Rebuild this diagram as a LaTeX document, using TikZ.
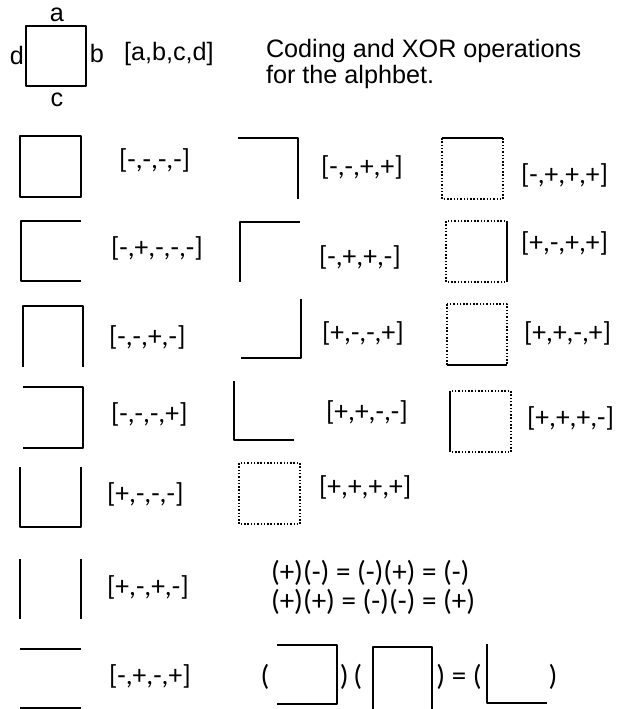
\documentclass[tikz,border=0pt]{standalone}
\usepackage{fontspec}
\setmainfont{Liberation Sans}
\newfontfamily\calib{Carlito}
\begin{document}
\begin{tikzpicture}[x=1pt,y=-1pt,line width=2pt,line join=round,
  codelbl/.style={anchor=west,inner sep=0pt,font=\calib\fontsize{27.5}{30}\selectfont},
  oplbl/.style={inner sep=0pt,font=\calib\fontsize{29}{29}\selectfont},
  txt/.style={inner sep=0pt,font=\fontsize{25.2}{26}\selectfont},
  dotbox/.style={line width=1.7pt,dash pattern=on 1.5pt off 1.8pt}]
\useasboundingbox (0,0) rectangle (616,709);
\draw[line width=1.5pt] (26,26) rectangle (86,86);
\node[txt,anchor=base] (sa) at (57,22) {a};
\node[txt,anchor=base] (sb) at (97,63) {b};
\node[txt,anchor=base] (sc) at (57,106) {c};
\node[txt,anchor=base] (sd) at (17,64) {d};
\node[txt,anchor=base west] (abcd) at (123,61) {[a,b,c,d]};
\node[txt,anchor=base west] (title1) at (265,57) {Coding and XOR operations};
\node[txt,anchor=base west] (title2) at (265,83) {for the alphbet.};
\draw (20,136) rectangle (81,197);
\node[codelbl] (l1) at (118,160) {[-,-,-,-]};
\draw (81,221) -- (21,221) -- (21,281) -- (81,281);
\node[codelbl] (l2) at (110,248) {[-,+,-,-,-]};
\draw (23,367) -- (23,306) -- (83,306) -- (83,367);
\node[codelbl] (l3) at (108,337) {[-,-,+,-]};
\draw (23,387) -- (83,387) -- (83,448) -- (23,448);
\node[codelbl] (l4) at (110,414) {[-,-,-,+]};
\draw (20,467) -- (20,527) -- (81,527) -- (81,467);
\node[codelbl] (l5) at (106,494) {[+,-,-,-]};
\draw (20,559) -- (20,619) (81,559) -- (81,619);
\node[codelbl] (l6) at (106,587) {[+,-,+,-]};
\draw (20,649) -- (81,649) (20,708) -- (81,708);
\node[codelbl] (l7) at (108,676) {[-,+,-,+]};
\draw (238,138) -- (298,138) -- (298,199);
\node[codelbl] (m1) at (320,167) {[-,-,+,+]};
\draw (240,282) -- (240,222) -- (300,222);
\node[codelbl] (m2) at (318,257) {[-,+,+,-]};
\draw (301,299) -- (301,358) -- (241,358);
\node[codelbl] (m3) at (321,333) {[+,-,-,+]};
\draw (234,381) -- (234,440) -- (294,440);
\node[codelbl] (m4) at (325,412) {[+,+,-,-]};
\draw[dotbox] (239,463) rectangle (300,524);
\node[codelbl] (m5) at (318,487) {[+,+,+,+]};
\draw[dotbox] (442,138) rectangle (503,199);
\draw (442,138) -- (503,138);
\node[codelbl] (r1) at (520,175) {[-,+,+,+]};
\draw[dotbox] (446,221) rectangle (507,282);
\draw (507,221) -- (507,282);
\node[codelbl] (r2) at (520,243) {[+,-,+,+]};
\draw[dotbox] (447,304) rectangle (507,365);
\draw (447,365) -- (507,365);
\node[codelbl] (r3) at (523,333) {[+,+,-,+]};
\draw[dotbox] (450,391) rectangle (511,452);
\draw (450,391) -- (450,452);
\node[codelbl] (r4) at (526,418) {[+,+,+,-]};
\node[oplbl,anchor=west] (rule1) at (270,573) {(+)(-) = (-)(+) = (-)};
\node[oplbl,anchor=west] (rule2) at (270,602) {(+)(+) = (-)(-) = (+)};
\node[oplbl] (p1) at (265,677) {(};
\draw (277,645) -- (337,645) -- (337,704) -- (277,704);
\node[oplbl] (p2) at (351,677) {)\,(};
\draw (373,709) -- (373,647) -- (432,647) -- (432,709);
\node[oplbl] (p3) at (459,677) {) = (};
\draw (487,644) -- (487,703) -- (547,703);
\node[oplbl] (p4) at (553,677) {)};
\end{tikzpicture}
\end{document}
